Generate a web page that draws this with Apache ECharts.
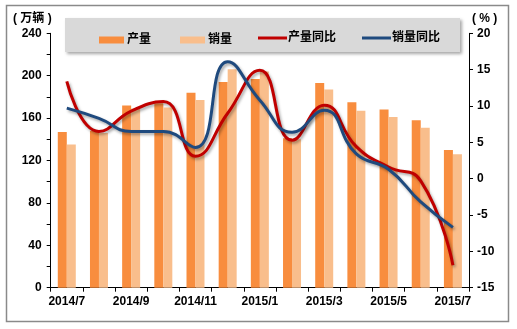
<!DOCTYPE html>
<html>
<head>
<meta charset="utf-8">
<script src="https://cdn.jsdelivr.net/npm/echarts@6/dist/echarts.min.js"></script>
<style>
html,body{margin:0;padding:0;background:#fff;}
#chart{width:517px;height:329px;}
</style>
</head>
<body>
<div id="chart"></div>
<script>
var categories = ['2014/7','2014/8','2014/9','2014/10','2014/11','2014/12','2015/1','2015/2','2015/3','2015/4','2015/5','2015/6','2015/7'];
var production = [147, 148, 172, 174, 184, 194, 197, 141, 193, 175, 168, 158, 130];
var sales      = [135, 146, 169, 170, 177, 206, 204, 140, 187, 167, 161, 151, 126];
var prodYoY    = [13.4, 6.5, 9.3, 10.6, 3.1, 9.0, 14.9, 5.3, 10.1, 4.4, 1.6, -0.3, -11.9];
var salesYoY   = [9.7, 8.3, 6.5, 6.5, 4.3, 16.1, 10.8, 6.4, 9.4, 3.4, 1.3, -3.2, -6.7];
var leftTicks  = [0, 40, 80, 120, 160, 200, 240];
var rightTicks = [-15, -10, -5, 0, 5, 10, 15, 20];

var NUMFONT = "'Liberation Sans', Arial, sans-serif";
var CJKFONT = "'Liberation Sans', 'Noto Sans CJK SC', sans-serif";
var chart = echarts.init(document.getElementById('chart'), null, {renderer: 'canvas'});
var lineShadow = {shadowColor: 'rgba(0,0,0,0.35)', shadowBlur: 3, shadowOffsetX: 1.5, shadowOffsetY: 2};

chart.setOption({
  animation: false,
  backgroundColor: '#ffffff',
  graphic: [
    {type: 'rect', shape: {x: 6.5, y: 5.5, width: 502, height: 316}, style: {fill: 'none', stroke: '#8a8a8a', lineWidth: 1.5}, z: -10},
    {type: 'rect', shape: {x: 65, y: 18, width: 395, height: 34}, style: {fill: '#d9d9d9', shadowColor: 'rgba(0,0,0,0.35)', shadowBlur: 3, shadowOffsetX: 2, shadowOffsetY: 2}, z: -5},
    {type: 'text', left: 13, top: 13, style: {text: '( 万辆 )', font: "bold 12px " + CJKFONT, fill: '#000'}},
    {type: 'text', left: 472, top: 13, style: {text: '( % )', font: "bold 12px " + CJKFONT, fill: '#000'}}
  ],
  legend: [
    {
      data: ['产量', '销量'], left: 94, top: 29, itemWidth: 25, itemHeight: 7, itemGap: 29,
      icon: 'rect', textStyle: {fontFamily: CJKFONT, fontWeight: 'bold', fontSize: 12, color: '#000', padding: [0,0,0,-2]}
    },
    {
      data: ['产量同比', '销量同比'], left: 253, top: 27, itemWidth: 29, itemHeight: 3, itemGap: 26,
      icon: 'rect',
      textStyle: {fontFamily: CJKFONT, fontWeight: 'bold', fontSize: 12, color: '#000', padding: [0,0,0,-4]}
    }
  ],
  grid: {left: 50.7, right: 48, top: 33.3, bottom: 41.3, containLabel: false},
  xAxis: {
    type: 'category', data: categories, boundaryGap: true,
    axisLine: {lineStyle: {color: '#000', width: 1}},
    axisTick: {show: true, interval: 0, length: 4, lineStyle: {color: '#000'}},
    axisLabel: {interval: 1, margin: 8, color: '#000', fontFamily: NUMFONT, fontWeight: 'bold', fontSize: 12}
  },
  yAxis: [
    {
      type: 'value', min: 0, max: 240, interval: 20, position: 'left',
      axisLine: {show: true, lineStyle: {color: '#000'}},
      axisTick: {show: true, length: 4, lineStyle: {color: '#000'}},
      splitLine: {show: false},
      axisLabel: {margin: 9, color: '#000', fontFamily: NUMFONT, fontWeight: 'bold', fontSize: 12,
        formatter: function (v) { return leftTicks.indexOf(v) >= 0 ? String(v) : ''; }}
    },
    {
      type: 'value', min: -15, max: 20, interval: 5, position: 'right',
      axisLine: {show: true, lineStyle: {color: '#000'}},
      axisTick: {show: true, length: 4, lineStyle: {color: '#000'}},
      splitLine: {show: false},
      axisLabel: {margin: 8, color: '#000', fontFamily: NUMFONT, fontWeight: 'bold', fontSize: 12,
        formatter: function (v) { return rightTicks.indexOf(v) >= 0 ? String(v) : ''; }}
    }
  ],
  series: [
    {name: '产量', type: 'bar', yAxisIndex: 0, data: production, barWidth: 9, barGap: '0%', itemStyle: {color: '#F88D3E'}},
    {name: '销量', type: 'bar', yAxisIndex: 0, data: sales, barWidth: 9, barGap: '0%', itemStyle: {color: '#F9BE8C'}},
    {name: '产量同比', type: 'line', yAxisIndex: 1, data: prodYoY, smooth: 0.5, symbol: 'none',
      lineStyle: Object.assign({color: '#C00000', width: 3}, lineShadow), itemStyle: {color: '#C00000'}},
    {name: '销量同比', type: 'line', yAxisIndex: 1, data: salesYoY, smooth: 0.5, symbol: 'none',
      lineStyle: Object.assign({color: '#1F4A7E', width: 3}, lineShadow), itemStyle: {color: '#1F4A7E'}}
  ]
});
</script>
</body>
</html>
